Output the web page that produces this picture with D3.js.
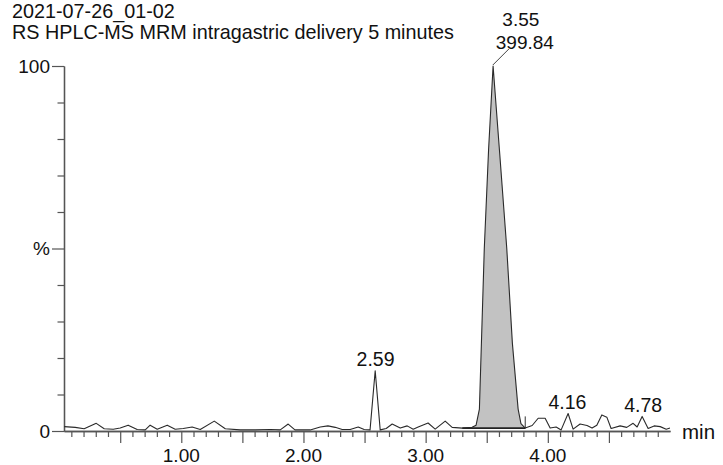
<!DOCTYPE html>
<html>
<head>
<meta charset="utf-8">
<script src="https://cdn.jsdelivr.net/npm/d3@7/dist/d3.min.js"></script>
<style>
  html, body { margin: 0; padding: 0; background: #fff; }
  svg text { font-family: "Liberation Sans", Arial, Helvetica, sans-serif; fill: #111; }
</style>
</head>
<body>
<svg id="chart" width="723" height="465"></svg>
<script>
// ---- data (retention time in minutes, relative intensity in %) ----
const titleLines = ["2021-07-26_01-02", "RS HPLC-MS MRM intragastric delivery 5 minutes"];
const times = [0.042,0.132,0.205,0.304,0.369,0.443,0.500,0.565,0.639,0.705,0.745,0.803,0.885,0.950,
  1.016,1.089,1.155,1.270,1.360,1.482,1.605,1.728,1.810,1.875,1.930,2.055,2.137,2.200,2.260,2.317,
  2.382,2.448,2.497,2.545,2.587,2.628,2.677,2.726,2.792,2.849,2.898,2.939,3.020,3.078,3.160,3.217,
  3.300,3.380,3.413,3.440,3.480,3.515,3.552,3.604,3.664,3.710,3.757,3.780,3.815,3.872,3.921,3.978,
  4.019,4.068,4.109,4.166,4.207,4.264,4.321,4.362,4.401,4.442,4.483,4.518,4.592,4.646,4.698,4.731,
  4.772,4.821,4.870,4.920,4.969,5.000];
const intensity = [1.2,1.0,0.6,2.1,0.6,0.5,0.8,1.6,0.4,0.3,1.6,0.5,1.6,0.5,
  0.7,1.1,0.4,2.7,0.6,0.3,0.3,0.4,0.3,1.9,0.3,0.3,1.1,1.4,1.0,0.4,
  0.4,1.1,0.4,0.3,16.5,0.3,0.7,1.9,0.8,1.4,0.5,1.1,2.2,0.5,2.7,1.0,
  0.8,1.0,1.6,6.0,50,77,100,77,50,24,6.0,2.0,0.8,1.5,3.5,3.5,
  0.8,1.1,0.3,4.8,0.5,1.9,1.5,0.8,1.6,4.4,3.8,0.7,1.4,1.0,2.1,1.1,
  4.0,0.7,1.4,1.2,0.5,0.8];
// labelled peaks
const peakTimes = [2.59, 3.55, 4.16, 4.78];
const peakHeights = [16.5, 100, 4.8, 4.0];
const peakLabels = ["2.59", "3.55", "4.16", "4.78"];
const mainPeakArea = "399.84";
// integration window of the main peak
const integStart = 3.30, integEnd = 3.815, integLevel = 0.8;
// axis ticks
const xMajorTicks = [0.5, 1.0, 1.5, 2.0, 2.5, 3.0, 3.5, 4.0, 4.5];
const xLabelTicks = [1, 2, 3, 4];
const xLabelText = ["1.00", "2.00", "3.00", "4.00"];
const yMajorTicks = [0, 50, 100];
const yMajorText = ["0", "%", "100"];

// ---- drawing ----
const svg = d3.select("#chart");
const x = d3.scaleLinear().domain([0.04, 5.0]).range([64, 670]);
const y = d3.scaleLinear().domain([0, 100]).range([431, 66]);
const axisColor = "#555";

// titles
svg.selectAll("text.title").data(titleLines).join("text")
  .attr("class", "title")
  .attr("x", 12).attr("y", (d, i) => 17.5 + i * 21.5)
  .attr("font-size", 19.8).text(d => d);

// minor x ticks
const xMinor = d3.range(1, 50).map(i => i / 10).filter(v => !xMajorTicks.some(m => Math.abs(m - v) < 1e-6));
const gxMinor = svg.append("g").attr("transform", `translate(0,${y(0)})`)
  .call(d3.axisBottom(x).tickValues(xMinor).tickSize(6).tickSizeOuter(0).tickFormat(""));
const gxMajor = svg.append("g").attr("transform", `translate(0,${y(0)})`)
  .call(d3.axisBottom(x).tickValues(xMajorTicks).tickSize(12).tickSizeOuter(0).tickFormat(""));
[gxMinor, gxMajor].forEach(g => {
  g.selectAll("line").attr("stroke", axisColor).attr("stroke-width", 1.2);
  g.select(".domain").attr("stroke", axisColor).attr("stroke-width", 1.3);
});
svg.selectAll("text.xl").data(xLabelTicks).join("text")
  .attr("class", "xl").attr("x", d => x(d)).attr("y", 462)
  .attr("text-anchor", "middle").attr("font-size", 19)
  .text((d, i) => xLabelText[i]);
svg.append("text").attr("x", 682).attr("y", 438.5).attr("font-size", 20.5).text("min");

// y ticks
const yMinor = d3.range(10, 100, 10).filter(v => v !== 50);
const gyMinor = svg.append("g").attr("transform", `translate(${x(0.04)},0)`)
  .call(d3.axisLeft(y).tickValues(yMinor).tickSize(6.5).tickSizeOuter(0).tickFormat(""));
const gyMajor = svg.append("g").attr("transform", `translate(${x(0.04)},0)`)
  .call(d3.axisLeft(y).tickValues(yMajorTicks).tickSize(12).tickSizeOuter(0)
    .tickPadding(2).tickFormat((d, i) => yMajorText[i]));
[gyMinor, gyMajor].forEach(g => {
  g.selectAll("line").attr("stroke", axisColor).attr("stroke-width", 1.2);
  g.select(".domain").attr("stroke", axisColor).attr("stroke-width", 1.3);
});
gyMajor.selectAll("text").attr("font-size", 19).attr("fill", "#111")
  .attr("font-family", "Liberation Sans, Arial, sans-serif");

// data points
const pts = times.map((t, i) => ({ t, v: intensity[i] }));

// filled integrated peak
const fillPts = pts.filter(p => p.t >= integStart - 1e-9 && p.t <= integEnd + 1e-9);
const area = d3.area().x(p => x(p.t)).y0(y(integLevel)).y1(p => y(p.v));
svg.append("path").datum(fillPts).attr("d", area).attr("fill", "#c2c2c2");
svg.append("line")
  .attr("x1", x(integStart)).attr("x2", x(integEnd))
  .attr("y1", y(integLevel)).attr("y2", y(integLevel))
  .attr("stroke", "#222").attr("stroke-width", 1.6);
svg.append("line")
  .attr("x1", x(integEnd)).attr("x2", x(integEnd))
  .attr("y1", y(4)).attr("y2", y(0.7))
  .attr("stroke", "#333").attr("stroke-width", 1);

// trace
const line = d3.line().x(p => x(p.t)).y(p => y(p.v));
svg.append("path").datum(pts).attr("d", line)
  .attr("fill", "none").attr("stroke", "#2a2a2a").attr("stroke-width", 1.1)
  .attr("stroke-linejoin", "round");

// peak labels
peakTimes.forEach((t, i) => {
  if (peakLabels[i] === "3.55") {
    svg.append("line")
      .attr("x1", x(t)).attr("y1", y(peakHeights[i]) - 1)
      .attr("x2", x(t) + 16).attr("y2", y(peakHeights[i]) - 17)
      .attr("stroke", "#444").attr("stroke-width", 1);
    svg.append("text").attr("x", x(t) + 28).attr("y", 26)
      .attr("text-anchor", "middle").attr("font-size", 19).text(peakLabels[i]);
    svg.append("text").attr("x", x(t) + 32).attr("y", 48.5)
      .attr("text-anchor", "middle").attr("font-size", 19).text(mainPeakArea);
  } else {
    svg.append("text").attr("x", x(t)).attr("y", y(peakHeights[i]) - 4.5)
      .attr("text-anchor", "middle").attr("font-size", 19.5).text(peakLabels[i]);
  }
});
</script>
</body>
</html>
